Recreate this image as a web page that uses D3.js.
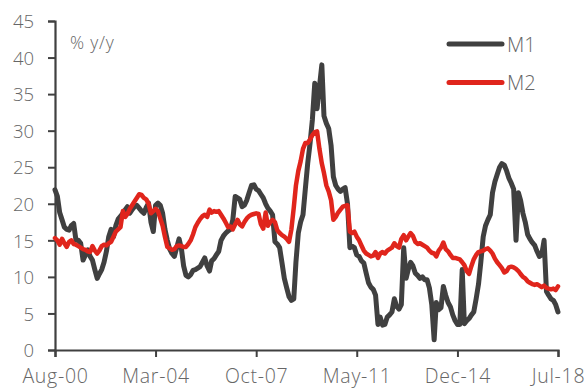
<!DOCTYPE html>
<html>
<head>
<meta charset="utf-8">
<script src="https://cdn.jsdelivr.net/npm/d3@7"></script>
<style>
  html, body { margin: 0; padding: 0; background: #fff; }
  svg { display: block; }
  text { font-family: "Open Sans", "Lato", sans-serif; font-weight: 300; fill: #666; }
</style>
</head>
<body>
<svg id="chart" width="585" height="389"></svg>
<script>
// Monthly money growth, % y/y, first month Aug-2000
const startMonth = "Aug-00";

const m1Values = [
  21.9, 21.0, 18.8, 17.8, 16.8, 16.5, 16.4, 17.0, 17.3, 15.0,
  15.0, 14.6, 12.3, 13.0, 13.7, 12.8, 12.3, 11.0, 9.8, 10.4,
  11.0, 12.0, 13.5, 15.5, 16.5, 15.5, 17.0, 17.9, 18.3, 18.7,
  19.2, 19.6, 18.7, 19.2, 19.6, 19.8, 19.4, 19.0, 18.7, 19.5,
  20.1, 17.5, 16.2, 19.8, 20.1, 19.8, 18.7, 16.5, 15.0, 13.8,
  13.2, 12.8, 14.0, 15.2, 13.8, 11.5, 10.2, 10.0, 10.3, 10.9,
  11.0, 11.2, 11.4, 12.0, 12.6, 11.5, 10.8, 12.2, 12.5, 13.0,
  13.5, 15.0, 15.6, 16.0, 16.3, 16.5, 17.8, 21.0, 20.8, 20.6,
  19.6, 19.8, 20.5, 21.5, 22.5, 22.6, 22.0, 21.8, 21.3, 20.8,
  20.0, 19.4, 19.0, 18.5, 14.8, 14.5, 14.0, 11.9, 9.8, 8.5,
  7.3, 6.8, 7.0, 12.0, 16.0, 17.5, 18.5, 22.0, 25.5, 28.3,
  31.5, 36.5, 33.0, 36.0, 39.0, 32.0, 31.0, 30.3, 28.0, 23.7,
  22.5, 22.0, 21.7, 22.0, 22.2, 20.0, 14.0, 14.2, 14.0, 13.0,
  12.8, 12.2, 11.9, 10.5, 9.2, 8.6, 8.3, 7.5, 3.5, 4.5,
  3.4, 3.5, 4.5, 4.8, 5.2, 7.0, 6.0, 5.6, 6.2, 14.0,
  9.8, 11.0, 12.0, 11.5, 10.5, 10.2, 9.8, 10.0, 9.6, 9.6,
  8.5, 6.2, 1.4, 6.5, 5.5, 5.8, 8.7, 7.5, 6.5, 5.9,
  4.8, 4.0, 3.5, 3.5, 11.0, 3.6, 4.0, 4.3, 4.8, 5.2,
  7.0, 9.0, 12.0, 15.5, 17.0, 17.8, 18.5, 21.5, 23.0, 24.0,
  25.0, 25.5, 25.3, 24.5, 23.5, 22.8, 22.0, 15.0, 21.5, 20.5,
  18.7, 17.5, 15.8, 15.2, 14.7, 14.3, 13.5, 12.8, 13.0, 15.0,
  8.0, 7.5, 7.0, 6.8, 6.2, 5.2
];

const m2Values = [
  15.3, 15.0, 14.4, 15.2, 14.6, 14.1, 14.8, 15.0, 14.5, 14.4,
  14.2, 14.0, 13.8, 13.7, 13.5, 13.4, 14.2, 13.6, 13.2, 13.6,
  14.2, 14.4, 14.3, 14.6, 14.8, 15.5, 16.2, 16.5, 16.8, 19.0,
  18.2, 18.6, 19.3, 19.8, 20.3, 20.8, 21.3, 21.2, 20.8, 20.6,
  20.0, 18.7, 19.0, 19.3, 19.0, 18.0, 17.0, 15.5, 14.1, 13.9,
  13.7, 13.8, 14.2, 14.3, 14.2, 14.1, 14.1, 14.5, 15.0, 15.8,
  16.8, 17.4, 17.9, 18.3, 18.5, 18.2, 19.2, 18.8, 19.0, 18.9,
  19.0, 18.5, 18.0, 17.4, 16.8, 16.9, 16.5, 17.2, 17.8, 17.2,
  16.9, 17.5, 18.0, 18.3, 18.5, 18.6, 18.7, 18.6, 17.2, 16.6,
  18.8, 17.0, 17.5, 17.8, 17.5, 16.4, 16.0, 15.7, 15.5, 15.2,
  14.8, 16.5, 19.5, 22.5, 24.5, 25.8, 27.5, 28.3, 28.3, 28.8,
  29.4, 29.8, 29.9, 27.5, 25.5, 24.2, 22.5, 21.7, 20.5, 17.8,
  18.2, 18.8, 19.2, 19.6, 19.7, 19.8, 16.2, 16.0, 16.2, 15.5,
  15.0, 14.3, 13.6, 13.2, 13.0, 12.8, 12.9, 13.4, 12.6, 13.2,
  13.4, 13.2, 13.6, 13.8, 14.0, 14.6, 14.2, 14.0, 15.2, 15.7,
  15.0, 15.5, 16.0, 15.6, 14.8, 14.5, 14.6, 14.4, 14.2, 14.0,
  13.6, 13.3, 13.2, 12.8, 13.6, 14.0, 14.7, 13.8, 13.5, 13.0,
  12.6, 12.6, 12.5, 12.4, 12.0, 11.6, 10.8, 10.4, 11.5, 12.4,
  13.0, 13.4, 13.5, 13.6, 13.8, 13.9, 13.6, 13.2, 12.5, 12.0,
  11.6, 11.2, 10.6, 10.8, 11.3, 11.4, 11.3, 11.1, 10.8, 10.4,
  10.0, 9.8, 9.4, 9.2, 9.0, 8.9, 9.0, 8.8, 8.6, 8.8,
  8.5, 8.4, 8.3, 8.4, 8.2, 8.7
];

const xTickLabels = ["Aug-00", "Mar-04", "Oct-07", "May-11", "Dec-14", "Jul-18"];
const yTicks = [0, 5, 10, 15, 20, 25, 30, 35, 40, 45];
const seriesNames = ["M1", "M2"];
const seriesColors = ["#404040", "#e0251c"];

const parseMonth = d3.timeParse("%b-%y");
const first = parseMonth(startMonth);
const monthOf = i => d3.timeMonth.offset(first, i);

const svg = d3.select("#chart");
const margin = { left: 55, right: 27, top: 21, bottom: 39 };
const W = 585, H = 389;

const x = d3.scaleTime()
  .domain([first, parseMonth(xTickLabels[xTickLabels.length - 1])])
  .range([margin.left, W - margin.right]);
const y = d3.scaleLinear()
  .domain([0, 45])
  .range([H - margin.bottom, margin.top]);

const axisColor = "#404040";

// y axis
const yAxis = svg.append("g")
  .attr("transform", `translate(${margin.left},0)`)
  .call(d3.axisLeft(y).tickValues(yTicks).tickSize(7).tickPadding(14).tickFormat(d3.format("d")));
// x axis
const xAxis = svg.append("g")
  .attr("transform", `translate(0,${H - margin.bottom})`)
  .call(d3.axisBottom(x).tickValues(xTickLabels.map(parseMonth)).tickSize(7).tickPadding(12)
    .tickFormat(d3.timeFormat("%b-%y")));

[yAxis, xAxis].forEach(g => {
  g.select(".domain").attr("stroke", axisColor).attr("stroke-width", 2.2);
  g.selectAll(".tick line").attr("stroke", axisColor).attr("stroke-width", 2);
  g.selectAll(".tick text")
    .attr("fill", "#666")
    .style("font-family", "'Open Sans', sans-serif")
    .style("font-weight", 300);
});
yAxis.selectAll(".tick text")
  .style("font-size", "18.5px")
  .attr("dy", "0.36em");
xAxis.selectAll(".tick text")
  .style("font-size", "19.5px")
  .style("letter-spacing", "0.7px");

// unit label
svg.append("text")
  .attr("x", 70).attr("y", 49)
  .style("font-size", "17.5px")
  .style("letter-spacing", "0.8px")
  .text("% y/y");

// lines
const line = d3.line()
  .x((d, i) => x(monthOf(i)))
  .y(d => y(d))
  .curve(d3.curveLinear);

[m1Values, m2Values].forEach((vals, k) => {
  svg.append("path")
    .datum(vals)
    .attr("fill", "none")
    .attr("stroke", seriesColors[k])
    .attr("stroke-width", k === 0 ? 5 : 4.5)
    .attr("stroke-linejoin", "round")
    .attr("stroke-linecap", "round")
    .attr("d", line);
});

// legend
const legend = svg.append("g");
seriesNames.forEach((name, k) => {
  const ly = 44 + k * 38.5;
  legend.append("line")
    .attr("x1", 449).attr("x2", 502)
    .attr("y1", ly).attr("y2", ly)
    .attr("stroke", seriesColors[k])
    .attr("stroke-width", 5)
    .attr("stroke-linecap", "round");
  legend.append("text")
    .attr("x", 507).attr("y", ly + 7.5)
    .style("font-size", "20px")
    .text(name);
});
</script>
</body>
</html>
